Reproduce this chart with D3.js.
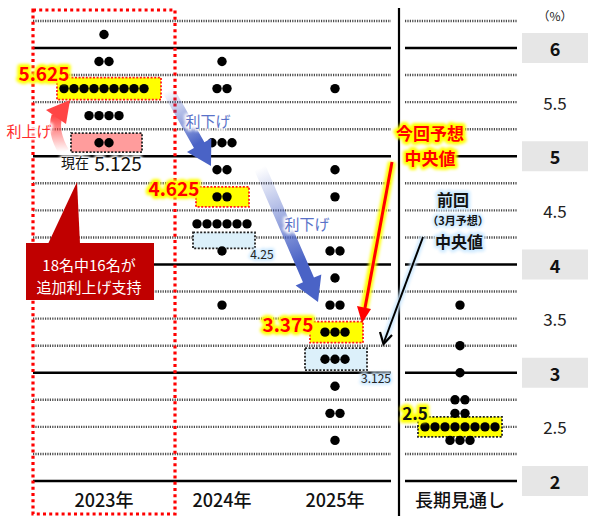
<!DOCTYPE html>
<html>
<head>
<meta charset="utf-8">
<script src="https://cdn.jsdelivr.net/npm/d3@7"></script>
<style>
  body { margin: 0; background: #fff; }
  svg { display: block; }
  text { font-family: "Noto Sans CJK JP", "Noto Sans", sans-serif; }
</style>
</head>
<body>
<div id="chart"></div>
<script>
// FOMC dot plot (June projections) with medians

var columns = ["2023年", "2024年", "2025年", "長期見通し"];

// [rate, number of participants]
var dots2023 = [[6.125, 1], [5.875, 2], [5.625, 9], [5.375, 4], [5.125, 2]];
var dots2024 = [[5.875, 1], [5.625, 2], [5.125, 3], [4.875, 2], [4.625, 2], [4.375, 6], [4.125, 1], [3.625, 1]];
var dots2025 = [[5.625, 1], [4.875, 1], [4.625, 1], [4.125, 2], [3.875, 1], [3.625, 2], [3.375, 3], [3.125, 3], [2.875, 1], [2.625, 2], [2.375, 1]];
var dotsLongRun = [[3.625, 1], [3.25, 1], [3.0, 1], [2.75, 2], [2.625, 2], [2.5, 8], [2.375, 3]];

var medianNow = [5.625, 4.625, 3.375, 2.5];     // 今回予想 中央値
var medianMarch = [null, 4.25, 3.125, null];     // 前回(3月予想) 中央値
var currentRate = 5.125;

var axisTicks = [2, 2.5, 3, 3.5, 4, 4.5, 5, 5.5, 6];
var gridValues = d3.range(2, 6.26, 0.25);

var width = 596, height = 516;

var svg = d3.select("#chart").append("svg")
	.attr("width", width).attr("height", height);

var defs = svg.append("defs");
defs.append("filter").attr("id", "blur")
	.attr("x", "-20%").attr("y", "-40%").attr("width", "140%").attr("height", "180%")
	.append("feGaussianBlur").attr("stdDeviation", 1.6);

var yScale = d3.scaleLinear().domain([2, 6]).range([481, 48]);
var xScale = d3.scaleOrdinal().domain(columns).range([104, 222, 335, 460]);

var allDots = [dots2023, dots2024, dots2025, dotsLongRun];

// grid lines, main panel and long run panel
var panels = [[33, 391], [405, 517]];
panels.forEach(function(p){
	svg.append("g").selectAll("line")
		.data(gridValues)
		.enter().append("line")
		.attr("x1", p[0]).attr("x2", p[1])
		.attr("y1", function(d){ return yScale(d); })
		.attr("y2", function(d){ return yScale(d); })
		.attr("stroke", function(d){ return d % 1 == 0 ? "#000" : "#4a4a4a"; })
		.attr("stroke-width", function(d){ return d % 1 == 0 ? 2.6 : 2.4; })
		.attr("stroke-dasharray", function(d){ return d % 1 == 0 ? null : "1.2,1.2"; });
});

// divider between the years and the long run
svg.append("line")
	.attr("x1", 399).attr("x2", 399).attr("y1", 8).attr("y2", height)
	.attr("stroke", "#000").attr("stroke-width", 2.2);

// right-hand axis labels
var yAxis = svg.append("g");
axisTicks.forEach(function(t){
	var y = yScale(t);
	if (t % 1 == 0) {
		yAxis.append("rect").attr("x", 522).attr("y", y - 15)
			.attr("width", 66).attr("height", 30).attr("fill", "#e6e6e6");
		yAxis.append("text").attr("x", 555).attr("y", y)
			.attr("text-anchor", "middle").attr("dominant-baseline", "central")
			.attr("font-size", 18).attr("font-weight", "bold").attr("fill", "#111")
			.text(t);
	} else {
		yAxis.append("text").attr("x", 555).attr("y", y)
			.attr("text-anchor", "middle").attr("dominant-baseline", "central")
			.attr("font-size", 17).attr("fill", "#222")
			.text(t);
	}
});
svg.append("text").attr("x", 555).attr("y", 15)
	.attr("text-anchor", "middle").attr("dominant-baseline", "central")
	.attr("font-size", 12).attr("fill", "#222").text("（%）");

// helper for text with a soft coloured halo
function label(x, y, str, opt){
	var g = svg.append("g");
	if (opt.glow) {
		g.append("text").attr("x", x).attr("y", y)
			.attr("text-anchor", opt.anchor || "middle").attr("dominant-baseline", "central")
			.attr("font-size", opt.size).attr("font-weight", opt.weight || "normal")
			.attr("fill", opt.glow).attr("stroke", opt.glow)
			.attr("stroke-width", opt.glowWidth || 5).attr("stroke-linejoin", "round")
			.attr("filter", "url(#blur)")
			.text(str);
	}
	g.append("text").attr("x", x).attr("y", y)
		.attr("text-anchor", opt.anchor || "middle").attr("dominant-baseline", "central")
		.attr("font-size", opt.size).attr("font-weight", opt.weight || "normal")
		.attr("fill", opt.fill || "#000")
		.text(str);
	return g;
}

// highlight boxes behind the median rows
function box(col, rate, left, right, h, fill, stroke, dy){
	var cx = xScale(col), cy = yScale(rate) + (dy || 0);
	svg.append("rect")
		.attr("x", cx + left).attr("y", cy - h / 2)
		.attr("width", right - left).attr("height", h)
		.attr("fill", fill).attr("stroke", stroke)
		.attr("stroke-width", 1.8).attr("stroke-dasharray", "2,1.6");
}
var yellow = "#ffff00";
box(columns[0], medianNow[0], -47, 57, 22, yellow, "#ff1a1a");
box(columns[0], currentRate, -33, 38, 19, "#ff9c9c", "#222");
box(columns[1], medianNow[1], -26, 27, 20, yellow, "#ff1a1a");
box(columns[1], medianMarch[1], -29, 33, 16, "#dcf0fa", "#222", 3);
box(columns[2], medianNow[2], -25, 28, 21, yellow, "#ff1a1a");
box(columns[2], medianMarch[2], -30, 32, 22, "#dcf0fa", "#222");
box(columns[3], medianNow[3], -42, 42, 20, yellow, "#222");

// the dots
var dotGap = 10;
allDots.forEach(function(rows, c){
	var cx = xScale(columns[c]);
	var pts = [];
	rows.forEach(function(r){
		for (var i = 0; i < r[1]; i++) {
			pts.push({ x: cx + (i - (r[1] - 1) / 2) * dotGap, y: yScale(r[0]) });
		}
	});
	svg.append("g").selectAll("circle")
		.data(pts)
		.enter().append("circle")
		.attr("cx", function(d){ return d.x; })
		.attr("cy", function(d){ return d.y; })
		.attr("r", 4.7)
		.attr("fill", "#000");
});

// red frame round 2023
svg.append("rect")
	.attr("x", 33).attr("y", 10).attr("width", 142).attr("height", 504)
	.attr("fill", "none").attr("stroke", "#ff0000")
	.attr("stroke-width", 3.2).attr("stroke-dasharray", "3,3.2");

// year labels
columns.forEach(function(c){
	svg.append("text").attr("x", xScale(c)).attr("y", 499)
		.attr("text-anchor", "middle").attr("dominant-baseline", "central")
		.attr("font-size", 18).attr("font-weight", 500).attr("fill", "#111")
		.text(c);
});

// median value labels
label(44, 72, "5.625", { size: 19, weight: "bold", fill: "#ff0000", glow: yellow, glowWidth: 6 });
label(174, 187, "4.625", { size: 19, weight: "bold", fill: "#ff0000", glow: yellow, glowWidth: 6 });
label(288, 323, "3.375", { size: 19, weight: "bold", fill: "#ff0000", glow: yellow, glowWidth: 6 });
label(415, 412, "2.5", { size: 17, weight: "bold", fill: "#111", glow: yellow, glowWidth: 6 });
label(262, 253, "4.25", { size: 12, fill: "#222", glow: "#cfeaff", glowWidth: 4 });
label(376, 377, "3.125", { size: 12, fill: "#222", glow: "#cfeaff", glowWidth: 4 });

label(75, 162, "現在", { size: 14, fill: "#111", glow: "#fff", glowWidth: 4 });
label(118, 162, "5.125", { size: 19, fill: "#111", glow: "#fff", glowWidth: 4 });

// gradient arrows
function gradient(id, x1, y1, x2, y2, color){
	var g = defs.append("linearGradient").attr("id", id)
		.attr("gradientUnits", "userSpaceOnUse")
		.attr("x1", x1).attr("y1", y1).attr("x2", x2).attr("y2", y2);
	g.append("stop").attr("offset", 0).attr("stop-color", color).attr("stop-opacity", 0);
	g.append("stop").attr("offset", 0.7).attr("stop-color", color).attr("stop-opacity", 1);
	g.append("stop").attr("offset", 1).attr("stop-color", color).attr("stop-opacity", 1);
}

function arrowPoly(x1, y1, x2, y2, sw, hw, hl){
	var dx = x2 - x1, dy = y2 - y1, len = Math.sqrt(dx * dx + dy * dy);
	var ux = dx / len, uy = dy / len, px = -uy, py = ux;
	var bx = x2 - ux * hl, by = y2 - uy * hl;
	var p = [
		[x1 + px * sw / 2, y1 + py * sw / 2],
		[bx + px * sw / 2, by + py * sw / 2],
		[bx + px * hw / 2, by + py * hw / 2],
		[x2, y2],
		[bx - px * hw / 2, by - py * hw / 2],
		[bx - px * sw / 2, by - py * sw / 2],
		[x1 - px * sw / 2, y1 - py * sw / 2]
	];
	return p.map(function(d){ return d.join(","); }).join(" ");
}

var blue = "#4a63c6";
gradient("blueGrad1", 168, 90, 211, 166, blue);
svg.append("polygon").attr("points", arrowPoly(168, 90, 211, 166, 12, 28, 24))
	.attr("fill", "url(#blueGrad1)");
gradient("blueGrad2", 260, 168, 318, 302, blue);
svg.append("polygon").attr("points", arrowPoly(260, 168, 318, 302, 12, 28, 24))
	.attr("fill", "url(#blueGrad2)");

label(208, 120, "利下げ", { size: 15, fill: "#5a72c8", glow: "#fff", glowWidth: 4 });
label(307, 223, "利下げ", { size: 15, fill: "#5a72c8", glow: "#fff", glowWidth: 4 });

// red curved arrow (利上げ)
var redGrad = defs.append("linearGradient").attr("id", "redGrad")
	.attr("gradientUnits", "userSpaceOnUse")
	.attr("x1", 62).attr("y1", 152).attr("x2", 62).attr("y2", 104);
redGrad.append("stop").attr("offset", 0).attr("stop-color", "#ff3b3b").attr("stop-opacity", 0);
redGrad.append("stop").attr("offset", 0.8).attr("stop-color", "#ff3b3b").attr("stop-opacity", 1);
svg.append("path").attr("d", "M64,152 Q52,132 57,116")
	.attr("fill", "none").attr("stroke", "url(#redGrad)").attr("stroke-width", 11);
svg.append("polygon").attr("points", "46,110 70,100 66,124").attr("fill", "#ff4545");
label(29, 130, "利上げ", { size: 15, fill: "#ff2b2b", glow: "#fff", glowWidth: 4 });

// 今回予想 中央値 pointer
svg.append("line").attr("x1", 392).attr("y1", 162).attr("x2", 364).attr("y2", 310)
	.attr("stroke", yellow).attr("stroke-width", 8).attr("filter", "url(#blur)");
svg.append("line").attr("x1", 392).attr("y1", 162).attr("x2", 365).attr("y2", 308)
	.attr("stroke", "#ff0000").attr("stroke-width", 3);
svg.append("polygon").attr("points", "357,306 371,309 362,323").attr("fill", "#ff0000");
label(430, 132, "今回予想", { size: 17, weight: "bold", fill: "#ff0000", glow: yellow, glowWidth: 6 });
label(430, 157, "中央値", { size: 17, weight: "bold", fill: "#ff0000", glow: yellow, glowWidth: 6 });

// 前回 中央値 pointer
svg.append("line").attr("x1", 423).attr("y1", 237).attr("x2", 384).attr("y2", 342)
	.attr("stroke", "#cfeaff").attr("stroke-width", 6).attr("filter", "url(#blur)");
svg.append("line").attr("x1", 423).attr("y1", 237).attr("x2", 384).attr("y2", 342)
	.attr("stroke", "#000").attr("stroke-width", 2);
svg.append("path").attr("d", "M380,332 L383.5,344 L392,335")
	.attr("fill", "none").attr("stroke", "#000").attr("stroke-width", 2.2);
label(453, 199, "前回", { size: 16, weight: "bold", fill: "#111", glow: "#cfeaff", glowWidth: 5 });
label(458, 220, "（3月予想）", { size: 11, weight: "bold", fill: "#111", glow: "#cfeaff", glowWidth: 4 });
label(459, 241, "中央値", { size: 16, weight: "bold", fill: "#111", glow: "#cfeaff", glowWidth: 5 });

// callout
svg.append("polygon").attr("points", "48,244 77,182 80,244").attr("fill", "#c00000");
svg.append("rect").attr("x", 26).attr("y", 243).attr("width", 128).attr("height", 57)
	.attr("fill", "#c00000");
label(89, 264, "18名中16名が", { size: 15, fill: "#fff" });
label(89, 286, "追加利上げ支持", { size: 15, fill: "#fff" });
</script>
</body>
</html>
